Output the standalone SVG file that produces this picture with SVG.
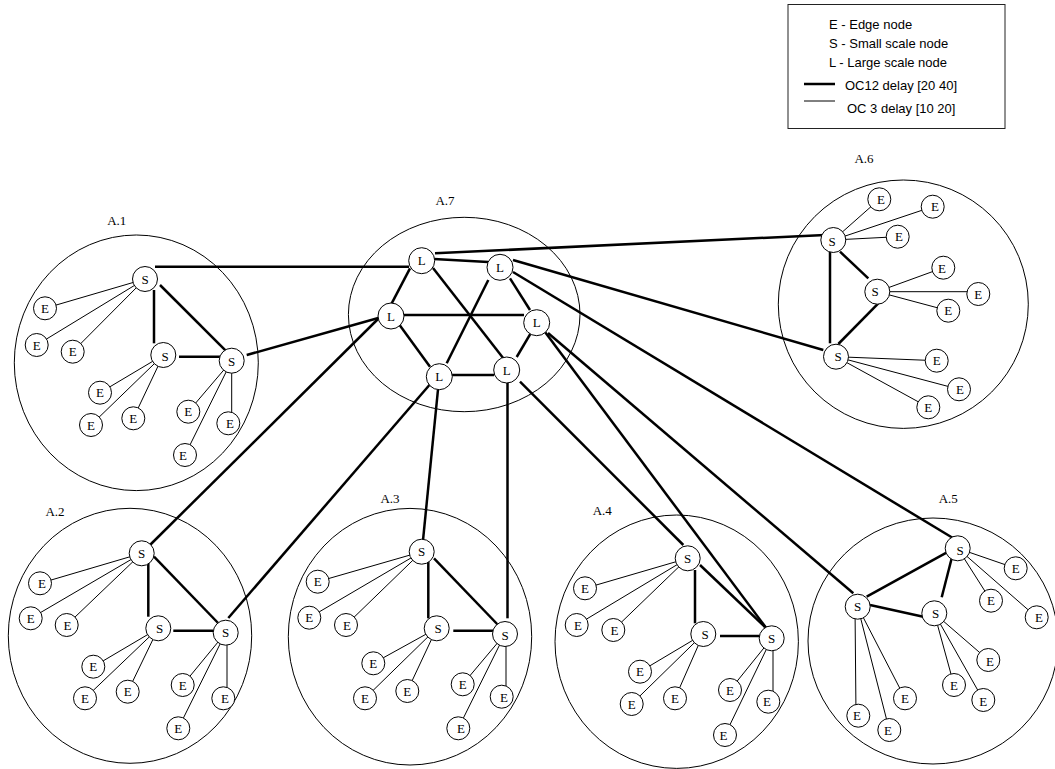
<svg xmlns="http://www.w3.org/2000/svg" width="1055" height="769" viewBox="0 0 1055 769">
<style>
.clu{fill:none;stroke:#000;stroke-width:1}
.thin{stroke:#000;stroke-width:1;fill:none}
.thick{stroke:#000;stroke-width:2.5;fill:none}
.nd{fill:#fff;stroke:#000;stroke-width:1}
.t{font-family:"Liberation Serif","Times New Roman",serif;font-size:13px;text-anchor:middle;fill:#000}
.lg{font-family:"Liberation Sans",Arial,sans-serif;font-size:13px;fill:#000}
</style>
<rect width="1055" height="769" fill="#fff"/>
<g id="legend">
<rect x="788" y="4.5" width="217" height="124" fill="#fff" stroke="#222" stroke-width="1"/>
<text class="lg" x="829" y="28.5">E - Edge node</text>
<text class="lg" x="829" y="47.5">S - Small scale node</text>
<text class="lg" x="829" y="66.5">L - Large scale node</text>
<line class="thick" x1="804" y1="84" x2="835" y2="84"/>
<text class="lg" x="845" y="89.5">OC12 delay [20 40]</text>
<line class="thin" x1="804" y1="101" x2="835" y2="101" stroke="#555"/>
<text class="lg" x="847" y="112.5">OC 3 delay [10 20]</text>
</g>
<g id="clusters">
<g id="A1"><ellipse class="clu" cx="136.3" cy="362.8" rx="122" ry="127.8"/><text class="t" x="116.7" y="224.5">A.1</text></g>
<g id="A2"><ellipse class="clu" cx="130" cy="635.8" rx="121.7" ry="127.5"/><text class="t" x="55" y="516">A.2</text></g>
<g id="A3"><ellipse class="clu" cx="410" cy="636.7" rx="121.7" ry="128.3"/><text class="t" x="390" y="503">A.3</text></g>
<g id="A4"><ellipse class="clu" cx="676.7" cy="641.7" rx="121.7" ry="126.7"/><text class="t" x="602.3" y="515">A.4</text></g>
<g id="A5"><ellipse class="clu" cx="933" cy="641" rx="125" ry="123"/><text class="t" x="948.3" y="503">A.5</text></g>
<g id="A6"><ellipse class="clu" cx="903.3" cy="304.2" rx="125" ry="124.2"/><text class="t" x="864" y="163">A.6</text></g>
<g id="A7"><ellipse class="clu" cx="464.2" cy="314.5" rx="115.8" ry="97.2"/><text class="t" x="445" y="205">A.7</text></g>
</g>
<g id="connectors">
<!-- A.1 thin -->
<line class="thin" x1="145" y1="279" x2="45" y2="308.3"/>
<line class="thin" x1="145" y1="279" x2="36.7" y2="345"/>
<line class="thin" x1="145" y1="279" x2="72.7" y2="351.7"/>
<line class="thin" x1="163.3" y1="355" x2="100" y2="392.7"/>
<line class="thin" x1="163.3" y1="355" x2="91" y2="425"/>
<line class="thin" x1="163.3" y1="355" x2="133.3" y2="418.3"/>
<line class="thin" x1="231.7" y1="360.7" x2="188.3" y2="411.7"/>
<line class="thin" x1="231.7" y1="360.7" x2="231.7" y2="423.3"/>
<line class="thin" x1="231.7" y1="360.7" x2="185" y2="455"/>
<!-- A.1 thick -->
<line class="thick" x1="154" y1="290" x2="154" y2="343.3"/>
<line class="thick" x1="160" y1="285" x2="226.7" y2="351.7"/>
<line class="thick" x1="179" y1="356.7" x2="220" y2="356.7"/>
<!-- A.2 thin -->
<line class="thin" x1="141.7" y1="553.3" x2="40" y2="583.3"/>
<line class="thin" x1="141.7" y1="553.3" x2="30.7" y2="618.3"/>
<line class="thin" x1="141.7" y1="553.3" x2="66.7" y2="625"/>
<line class="thin" x1="158.3" y1="628.3" x2="93.3" y2="666.7"/>
<line class="thin" x1="158.3" y1="628.3" x2="85" y2="698.3"/>
<line class="thin" x1="158.3" y1="628.3" x2="127.7" y2="691.7"/>
<line class="thin" x1="225.7" y1="632.7" x2="182.7" y2="685"/>
<line class="thin" x1="227" y1="632.7" x2="227" y2="698.3"/>
<line class="thin" x1="225.7" y1="632.7" x2="178.3" y2="728.3"/>
<!-- A.2 thick -->
<line class="thick" x1="148.3" y1="561.7" x2="148.3" y2="616.7"/>
<line class="thick" x1="154" y1="556.7" x2="220" y2="625"/>
<line class="thick" x1="173.3" y1="630.7" x2="213.3" y2="630.7"/>
<!-- A.3 thin -->
<line class="thin" x1="421.7" y1="551.7" x2="317.7" y2="581.7"/>
<line class="thin" x1="421.7" y1="551.7" x2="309.3" y2="617.7"/>
<line class="thin" x1="421.7" y1="551.7" x2="346" y2="625"/>
<line class="thin" x1="436.7" y1="628.3" x2="373.3" y2="663.3"/>
<line class="thin" x1="436.7" y1="628.3" x2="365" y2="698.3"/>
<line class="thin" x1="436.7" y1="628.3" x2="407.3" y2="691"/>
<line class="thin" x1="505" y1="634" x2="462.7" y2="684.3"/>
<line class="thin" x1="506" y1="634" x2="506" y2="696.7"/>
<line class="thin" x1="505" y1="634" x2="458.3" y2="728.3"/>
<!-- A.3 thick -->
<line class="thick" x1="428.3" y1="561.7" x2="428.3" y2="618.3"/>
<line class="thick" x1="434" y1="558.3" x2="500" y2="627"/>
<line class="thick" x1="453.3" y1="630.7" x2="493.3" y2="630.7"/>
<!-- A.4 thin -->
<line class="thin" x1="687.7" y1="558.3" x2="585" y2="588.3"/>
<line class="thin" x1="687.7" y1="558.3" x2="576.7" y2="625"/>
<line class="thin" x1="687.7" y1="558.3" x2="613.3" y2="630"/>
<line class="thin" x1="703.3" y1="634" x2="640" y2="671.7"/>
<line class="thin" x1="703.3" y1="634" x2="631.7" y2="704"/>
<line class="thin" x1="703.3" y1="634" x2="675" y2="698.3"/>
<line class="thin" x1="771.7" y1="638.3" x2="730" y2="690"/>
<line class="thin" x1="773" y1="638.3" x2="773" y2="701.7"/>
<line class="thin" x1="771.7" y1="638.3" x2="725" y2="735"/>
<!-- A.4 thick -->
<line class="thick" x1="695" y1="570" x2="695" y2="623.3"/>
<line class="thick" x1="700" y1="565" x2="766" y2="628"/>
<line class="thick" x1="720" y1="636" x2="760" y2="636"/>
<!-- A.5 thin -->
<line class="thin" x1="957.7" y1="548.3" x2="1015.7" y2="568.3"/>
<line class="thin" x1="957.7" y1="548.3" x2="991" y2="600.7"/>
<line class="thin" x1="957.7" y1="548.3" x2="1036.7" y2="617.3"/>
<line class="thin" x1="934.3" y1="613.3" x2="988.3" y2="660"/>
<line class="thin" x1="934.3" y1="613.3" x2="954" y2="685"/>
<line class="thin" x1="934.3" y1="613.3" x2="983.3" y2="700"/>
<line class="thin" x1="857.7" y1="606.7" x2="905" y2="698.3"/>
<line class="thin" x1="855" y1="606.7" x2="856" y2="715.7"/>
<line class="thin" x1="857.7" y1="606.7" x2="889.3" y2="730"/>
<!-- A.5 thick -->
<line class="thick" x1="948.3" y1="551.7" x2="866.7" y2="596.7"/>
<line class="thick" x1="951.7" y1="558.3" x2="941.7" y2="597.3"/>
<line class="thick" x1="870" y1="605" x2="923.3" y2="616.7"/>
<!-- A.6 thin -->
<line class="thin" x1="833.3" y1="240" x2="879.3" y2="199.3"/>
<line class="thin" x1="833.3" y1="240" x2="932.7" y2="206.7"/>
<line class="thin" x1="833.3" y1="240" x2="897.7" y2="236.7"/>
<line class="thin" x1="877.3" y1="291.7" x2="943.3" y2="267.7"/>
<line class="thin" x1="877.3" y1="291.7" x2="978.3" y2="291.7"/>
<line class="thin" x1="877.3" y1="291.7" x2="948.3" y2="310.7"/>
<line class="thin" x1="836" y1="356.7" x2="936.7" y2="360.7"/>
<line class="thin" x1="836" y1="356.7" x2="959" y2="389.3"/>
<line class="thin" x1="836" y1="356.7" x2="928.3" y2="407.3"/>
<!-- A.6 thick -->
<line class="thick" x1="830" y1="251.7" x2="830" y2="343.3"/>
<line class="thick" x1="840" y1="251.7" x2="868.3" y2="278.3"/>
<line class="thick" x1="878.3" y1="303.3" x2="838.3" y2="344"/>
<!-- A.7 internal -->
<line class="thick" x1="434" y1="259" x2="488" y2="262"/>
<line class="thick" x1="410" y1="268.3" x2="391.7" y2="303.3"/>
<line class="thick" x1="433" y1="268" x2="503.3" y2="358.3"/>
<line class="thick" x1="488.3" y1="280" x2="446.7" y2="363.3"/>
<line class="thick" x1="510" y1="278.3" x2="530" y2="310"/>
<line class="thick" x1="404" y1="315" x2="524" y2="315"/>
<line class="thick" x1="398.3" y1="323.3" x2="430" y2="366.7"/>
<line class="thick" x1="452" y1="375" x2="494" y2="375"/>
<line class="thick" x1="531.7" y1="331.7" x2="516.7" y2="357"/>
<!-- inter-cluster -->
<line class="thick" x1="155" y1="266.7" x2="409" y2="266.7"/>
<line class="thick" x1="246.7" y1="355" x2="378.3" y2="318"/>
<line class="thick" x1="435" y1="253.3" x2="825" y2="235"/>
<line class="thick" x1="513" y1="260" x2="823.3" y2="350"/>
<line class="thick" x1="513" y1="272" x2="953.3" y2="538.3"/>
<line class="thick" x1="378" y1="319" x2="150" y2="545"/>
<line class="thick" x1="432" y1="382" x2="228.3" y2="618"/>
<line class="thick" x1="438" y1="389.5" x2="422.7" y2="543.3"/>
<line class="thick" x1="507.5" y1="383" x2="507.5" y2="618.3"/>
<line class="thick" x1="520" y1="381.7" x2="683.3" y2="545"/>
<line class="thick" x1="545" y1="332" x2="770" y2="633"/>
<line class="thick" x1="548" y1="333" x2="853.3" y2="593.3"/>
</g>
<g id="nodes" class="t">
<g id="A1-S1"><circle class="nd" cx="145" cy="279" r="12.5"/><text x="145" y="283.5">S</text></g>
<g id="A1-S2"><circle class="nd" cx="163.3" cy="355" r="12.5"/><text x="165" y="361">S</text></g>
<g id="A1-S3"><circle class="nd" cx="231.7" cy="360.7" r="12.5"/><text x="231.7" y="366">S</text></g>
<g id="A1-E1"><circle class="nd" cx="45" cy="308.3" r="11.5"/><text x="45" y="312.8">E</text></g>
<g id="A1-E2"><circle class="nd" cx="36.7" cy="345" r="11.5"/><text x="36.7" y="349.5">E</text></g>
<g id="A1-E3"><circle class="nd" cx="72.7" cy="351.7" r="11.5"/><text x="72.7" y="356.2">E</text></g>
<g id="A1-E4"><circle class="nd" cx="100" cy="392.7" r="11.5"/><text x="100" y="397.2">E</text></g>
<g id="A1-E5"><circle class="nd" cx="91" cy="425" r="11.5"/><text x="91" y="429.5">E</text></g>
<g id="A1-E6"><circle class="nd" cx="133.3" cy="418.3" r="11.5"/><text x="133.3" y="422.8">E</text></g>
<g id="A1-E7"><circle class="nd" cx="188.3" cy="411.7" r="11.5"/><text x="188.3" y="416.2">E</text></g>
<g id="A1-E8"><circle class="nd" cx="228.3" cy="423.3" r="11.5"/><text x="230" y="428">E</text></g>
<g id="A1-E9"><circle class="nd" cx="185" cy="455" r="11.5"/><text x="183" y="459.5">E</text></g>

<g id="A2-S1"><circle class="nd" cx="141.7" cy="553.3" r="12.5"/><text x="141.7" y="557.8">S</text></g>
<g id="A2-S2"><circle class="nd" cx="158.3" cy="628.3" r="12.5"/><text x="159.5" y="632.8">S</text></g>
<g id="A2-S3"><circle class="nd" cx="225.7" cy="632.7" r="12.5"/><text x="225.7" y="637.2">S</text></g>
<g id="A2-E1"><circle class="nd" cx="40" cy="583.3" r="11.5"/><text x="42" y="587.8">E</text></g>
<g id="A2-E2"><circle class="nd" cx="30.7" cy="618.3" r="11.5"/><text x="30.7" y="622.8">E</text></g>
<g id="A2-E3"><circle class="nd" cx="66.7" cy="625" r="11.5"/><text x="67.5" y="629.5">E</text></g>
<g id="A2-E4"><circle class="nd" cx="93.3" cy="666.7" r="11.5"/><text x="93.3" y="671.2">E</text></g>
<g id="A2-E5"><circle class="nd" cx="85" cy="698.3" r="11.5"/><text x="85" y="702.8">E</text></g>
<g id="A2-E6"><circle class="nd" cx="127.7" cy="691.7" r="11.5"/><text x="127.7" y="696.2">E</text></g>
<g id="A2-E7"><circle class="nd" cx="182.7" cy="685" r="11.5"/><text x="182.7" y="689.5">E</text></g>
<g id="A2-E8"><circle class="nd" cx="223.3" cy="698.3" r="11.5"/><text x="225" y="703">E</text></g>
<g id="A2-E9"><circle class="nd" cx="178.3" cy="728.3" r="11.5"/><text x="178.3" y="732.8">E</text></g>

<g id="A3-S1"><circle class="nd" cx="421.7" cy="551.7" r="12.5"/><text x="421.7" y="556.2">S</text></g>
<g id="A3-S2"><circle class="nd" cx="436.7" cy="628.3" r="12.5"/><text x="438" y="632.8">S</text></g>
<g id="A3-S3"><circle class="nd" cx="505" cy="634" r="12.5"/><text x="505" y="640">S</text></g>
<g id="A3-E1"><circle class="nd" cx="317.7" cy="581.7" r="11.5"/><text x="317.7" y="586.2">E</text></g>
<g id="A3-E2"><circle class="nd" cx="309.3" cy="617.7" r="11.5"/><text x="309.3" y="622.2">E</text></g>
<g id="A3-E3"><circle class="nd" cx="346" cy="625" r="11.5"/><text x="347" y="630">E</text></g>
<g id="A3-E4"><circle class="nd" cx="373.3" cy="663.3" r="11.5"/><text x="373.3" y="668">E</text></g>
<g id="A3-E5"><circle class="nd" cx="365" cy="698.3" r="11.5"/><text x="365" y="702.8">E</text></g>
<g id="A3-E6"><circle class="nd" cx="407.3" cy="691" r="11.5"/><text x="407.3" y="695.5">E</text></g>
<g id="A3-E7"><circle class="nd" cx="462.7" cy="684.3" r="11.5"/><text x="462.7" y="689">E</text></g>
<g id="A3-E8"><circle class="nd" cx="501.7" cy="696.7" r="11.5"/><text x="504" y="701.5">E</text></g>
<g id="A3-E9"><circle class="nd" cx="458.3" cy="728.3" r="11.5"/><text x="461" y="733">E</text></g>

<g id="A4-S1"><circle class="nd" cx="687.7" cy="558.3" r="12.5"/><text x="687.7" y="562.8">S</text></g>
<g id="A4-S2"><circle class="nd" cx="703.3" cy="634" r="12.5"/><text x="705" y="639">S</text></g>
<g id="A4-S3"><circle class="nd" cx="771.7" cy="638.3" r="12.5"/><text x="771.7" y="642.8">S</text></g>
<g id="A4-E1"><circle class="nd" cx="585" cy="588.3" r="11.5"/><text x="585" y="592.8">E</text></g>
<g id="A4-E2"><circle class="nd" cx="576.7" cy="625" r="11.5"/><text x="578" y="629.5">E</text></g>
<g id="A4-E3"><circle class="nd" cx="613.3" cy="630" r="11.5"/><text x="614.5" y="634.5">E</text></g>
<g id="A4-E4"><circle class="nd" cx="640" cy="671.7" r="11.5"/><text x="640" y="676.2">E</text></g>
<g id="A4-E5"><circle class="nd" cx="631.7" cy="704" r="11.5"/><text x="631.7" y="708.5">E</text></g>
<g id="A4-E6"><circle class="nd" cx="675" cy="698.3" r="11.5"/><text x="675" y="702.8">E</text></g>
<g id="A4-E7"><circle class="nd" cx="730" cy="690" r="11.5"/><text x="730" y="694.5">E</text></g>
<g id="A4-E8"><circle class="nd" cx="768.3" cy="701.7" r="11.5"/><text x="767" y="706.2">E</text></g>
<g id="A4-E9"><circle class="nd" cx="725" cy="735" r="11.5"/><text x="723.5" y="739.5">E</text></g>

<g id="A5-S1"><circle class="nd" cx="957.7" cy="548.3" r="12.5"/><text x="960" y="554.5">S</text></g>
<g id="A5-S2"><circle class="nd" cx="857.7" cy="606.7" r="12.5"/><text x="857.7" y="611.2">S</text></g>
<g id="A5-S3"><circle class="nd" cx="934.3" cy="613.3" r="12.5"/><text x="935.5" y="617.8">S</text></g>
<g id="A5-E1"><circle class="nd" cx="1015.7" cy="568.3" r="11.5"/><text x="1015.7" y="572.8">E</text></g>
<g id="A5-E2"><circle class="nd" cx="991" cy="600.7" r="11.5"/><text x="991" y="605.2">E</text></g>
<g id="A5-E3"><circle class="nd" cx="1036.7" cy="617.3" r="11.5"/><text x="1039" y="621.8">E</text></g>
<g id="A5-E4"><circle class="nd" cx="988.3" cy="660" r="11.5"/><text x="990" y="665.5">E</text></g>
<g id="A5-E5"><circle class="nd" cx="954" cy="685" r="11.5"/><text x="954" y="689.5">E</text></g>
<g id="A5-E6"><circle class="nd" cx="983.3" cy="700" r="11.5"/><text x="983.3" y="705.5">E</text></g>
<g id="A5-E7"><circle class="nd" cx="905" cy="698.3" r="11.5"/><text x="905" y="702.8">E</text></g>
<g id="A5-E8"><circle class="nd" cx="858.3" cy="715.7" r="11.5"/><text x="857" y="720.2">E</text></g>
<g id="A5-E9"><circle class="nd" cx="889.3" cy="730" r="11.5"/><text x="888" y="735">E</text></g>

<g id="A6-S1"><circle class="nd" cx="833.3" cy="240" r="12.5"/><text x="832" y="246">S</text></g>
<g id="A6-S2"><circle class="nd" cx="877.3" cy="291.7" r="12.5"/><text x="875" y="296.2">S</text></g>
<g id="A6-S3"><circle class="nd" cx="836" cy="356.7" r="12.5"/><text x="838" y="361.2">S</text></g>
<g id="A6-E1"><circle class="nd" cx="879.3" cy="199.3" r="11.5"/><text x="881" y="203.8">E</text></g>
<g id="A6-E2"><circle class="nd" cx="932.7" cy="206.7" r="11.5"/><text x="935" y="211.2">E</text></g>
<g id="A6-E3"><circle class="nd" cx="897.7" cy="236.7" r="11.5"/><text x="899" y="241.2">E</text></g>
<g id="A6-E4"><circle class="nd" cx="943.3" cy="267.7" r="11.5"/><text x="942" y="272.5">E</text></g>
<g id="A6-E5"><circle class="nd" cx="978.3" cy="294" r="11.5"/><text x="978.3" y="298.5">E</text></g>
<g id="A6-E6"><circle class="nd" cx="948.3" cy="310.7" r="11.5"/><text x="948.3" y="315.2">E</text></g>
<g id="A6-E7"><circle class="nd" cx="936.7" cy="360.7" r="11.5"/><text x="936.7" y="365.2">E</text></g>
<g id="A6-E8"><circle class="nd" cx="959" cy="389.3" r="11.5"/><text x="960" y="394">E</text></g>
<g id="A6-E9"><circle class="nd" cx="928.3" cy="407.3" r="11.5"/><text x="928.3" y="411.8">E</text></g>

<g id="A7-L1"><circle class="nd" cx="421.7" cy="260.7" r="13"/><text x="421.7" y="265.2">L</text></g>
<g id="A7-L2"><circle class="nd" cx="500" cy="267.3" r="13"/><text x="500" y="271.8">L</text></g>
<g id="A7-L3"><circle class="nd" cx="391" cy="316" r="13"/><text x="391" y="320.5">L</text></g>
<g id="A7-L4"><circle class="nd" cx="536.7" cy="322.7" r="13"/><text x="536.7" y="327.2">L</text></g>
<g id="A7-L5"><circle class="nd" cx="439.3" cy="376.7" r="13"/><text x="439.3" y="381.2">L</text></g>
<g id="A7-L6"><circle class="nd" cx="506.7" cy="370" r="13"/><text x="506.7" y="374.5">L</text></g>
</g>
</svg>
